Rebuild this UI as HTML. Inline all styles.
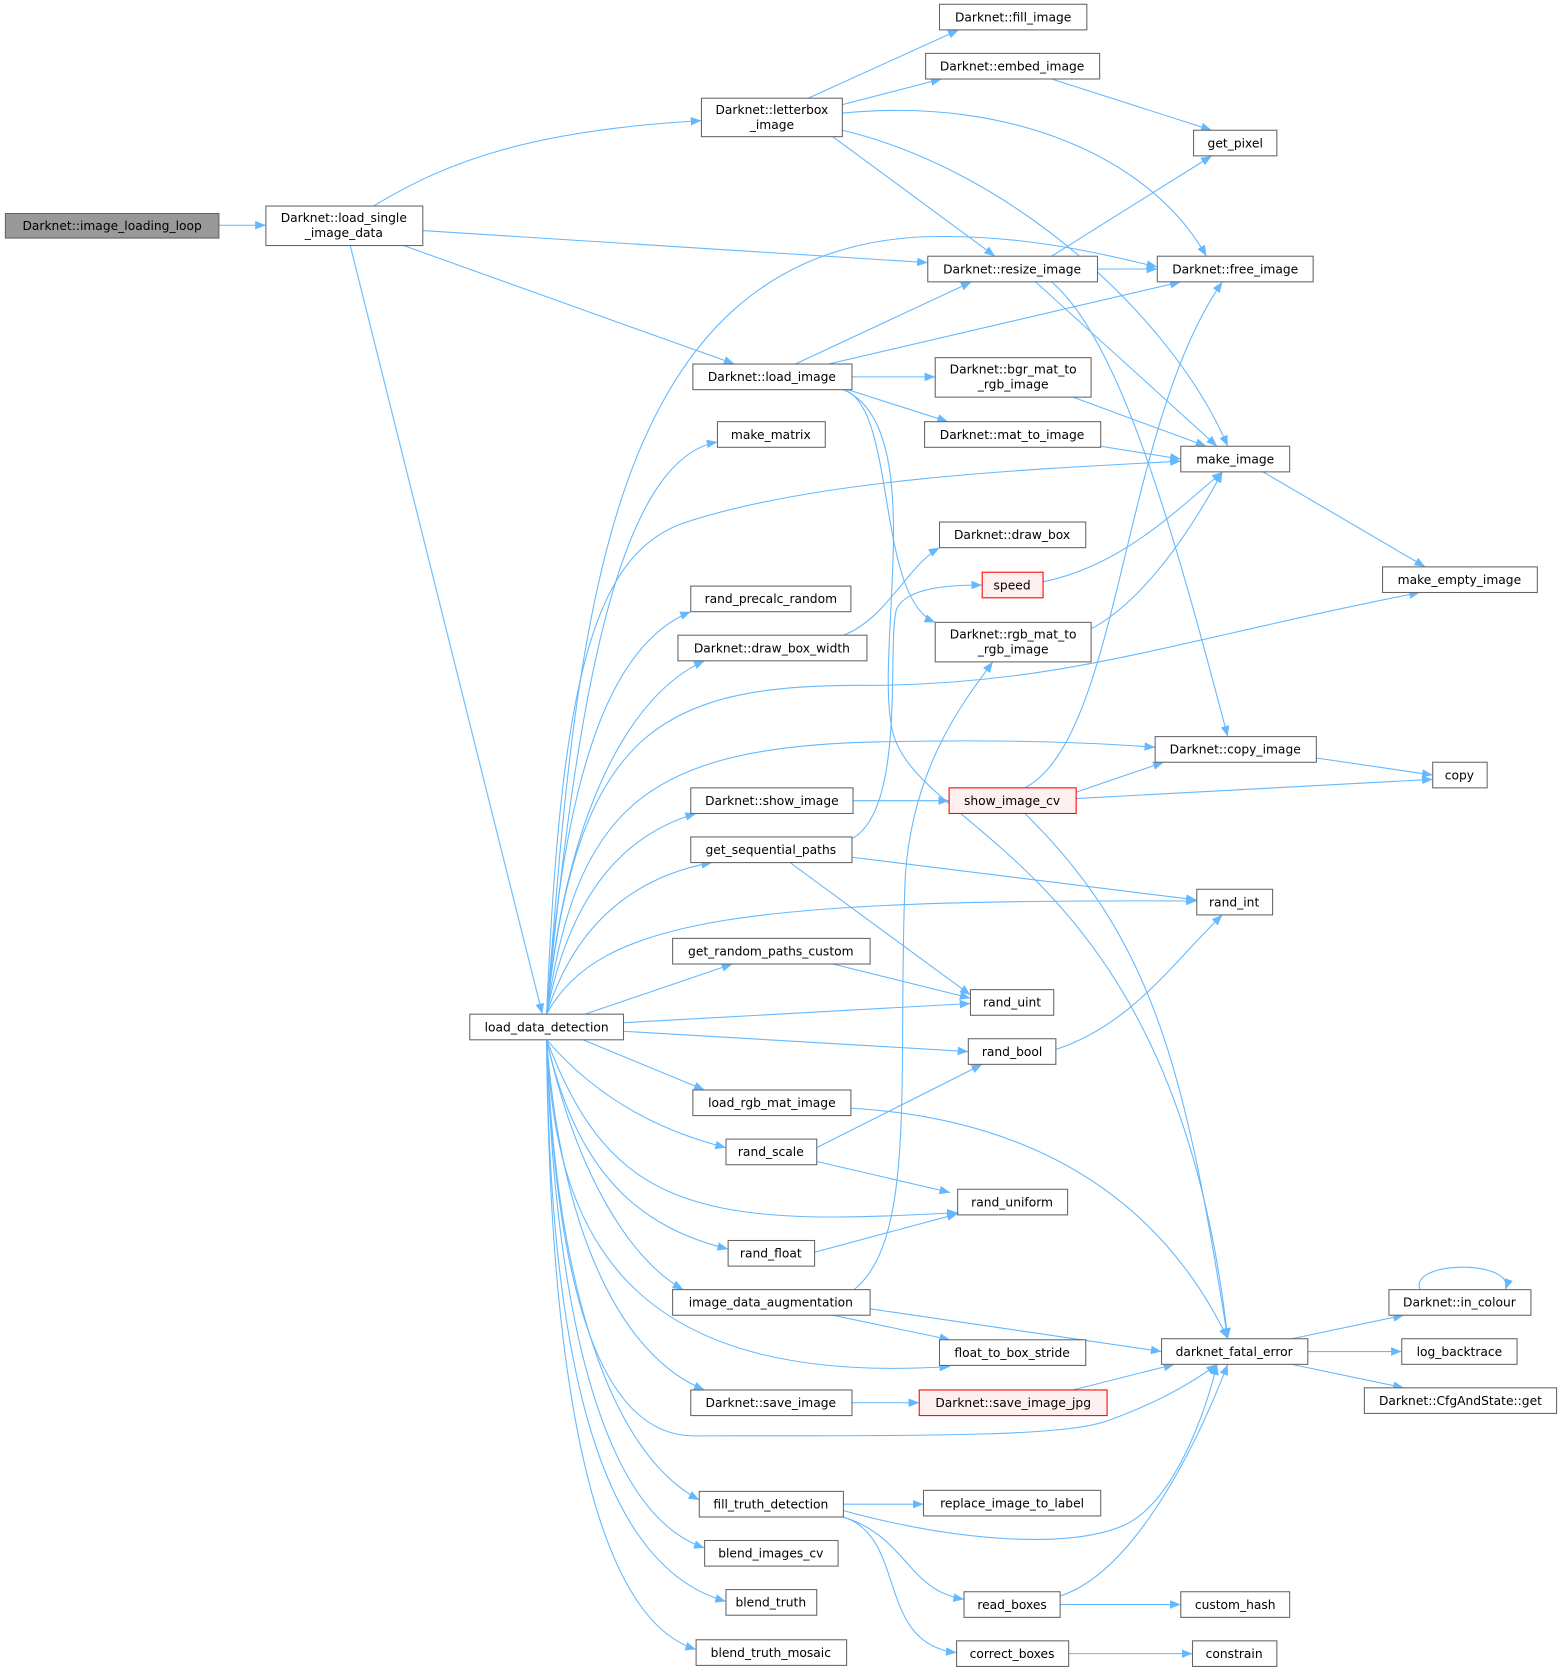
<!DOCTYPE html>
<html><head><meta charset="utf-8"><style>
html,body{margin:0;padding:0;background:#fff;}
svg{display:block;}
text{font-family:"DejaVu Sans","Liberation Sans",sans-serif;font-size:11.5px;fill:#000;text-anchor:middle;}
.e{fill:none;stroke:#63b8ff;stroke-width:1;}
.n{fill:#fff;stroke:#666;stroke-width:1;}
.r{fill:#fff0f0;stroke:#f00;stroke-width:1;}
</style></head><body>
<svg width="1563" height="1675" viewBox="0 0 1464 1569" xmlns="http://www.w3.org/2000/svg">
<defs><marker id="a" viewBox="0 0 10 10" refX="10" refY="5" markerWidth="10" markerHeight="10" markerUnits="userSpaceOnUse" orient="auto"><path d="M0,1 L10,5 L0,9 z" fill="#63b8ff"/></marker></defs>
<g marker-end="url(#a)">
<path class="e" d="M205,211 L249,211"/>
<path class="e" d="M350,193 C420,150 500,122 657,113"/>
<path class="e" d="M396,216 L869,246"/>
<path class="e" d="M378,230 L688,341"/>
<path class="e" d="M328,230 L508,950"/>
<path class="e" d="M757,92 L898,28"/>
<path class="e" d="M789,98 L882,74"/>
<path class="e" d="M789,106 C950,90 1080,150 1130,240"/>
<path class="e" d="M789,122 C950,160 1100,300 1150,418"/>
<path class="e" d="M780,128 L932,240"/>
<path class="e" d="M985,74 L1135,122"/>
<path class="e" d="M985,240 L1135,146"/>
<path class="e" d="M1028,252 L1084,252"/>
<path class="e" d="M970,264 L1140,418"/>
<path class="e" d="M985,264 C1050,320 1100,500 1150,690"/>
<path class="e" d="M745,341 L910,264"/>
<path class="e" d="M776,341 L1106,264"/>
<path class="e" d="M798,353 L876,353"/>
<path class="e" d="M794,365 L888,395"/>
<path class="e" d="M790,365 C840,380 820,560 876,583"/>
<path class="e" d="M790,365 C870,400 820,600 835,680 C850,780 1100,800 1150,1254"/>
<path class="e" d="M1005,372 L1130,418"/>
<path class="e" d="M1031,418 L1106,430"/>
<path class="e" d="M1183,442 L1335,531"/>
<path class="e" d="M977,545 C1050,530 1100,480 1145,442"/>
<path class="e" d="M1020,590 C1080,560 1130,470 1145,442"/>
<path class="e" d="M790,595 C830,580 850,530 880,513"/>
<path class="e" d="M797,786 C850,760 830,600 840,570 C850,550 890,548 920,548"/>
<path class="e" d="M798,803 L1121,843"/>
<path class="e" d="M740,808 L909,932"/>
<path class="e" d="M799,750 L889,750"/>
<path class="e" d="M960,738 C1050,690 1050,400 1145,264"/>
<path class="e" d="M1008,742 L1090,714"/>
<path class="e" d="M1008,748 L1342,730"/>
<path class="e" d="M960,762 C1080,880 1110,1000 1150,1254"/>
<path class="e" d="M1233,710 L1342,726"/>
<path class="e" d="M780,903 L909,935"/>
<path class="e" d="M989,983 C1060,960 1100,900 1145,857"/>
<path class="e" d="M797,1038 C1000,1050 1100,1150 1150,1254"/>
<path class="e" d="M765,1075 L920,997"/>
<path class="e" d="M765,1088 L890,1117"/>
<path class="e" d="M763,1173 L897,1137"/>
<path class="e" d="M815,1226 L1088,1266"/>
<path class="e" d="M780,1232 L890,1255"/>
<path class="e" d="M800,1208 C860,1160 840,1000 848,820 C855,720 900,660 930,620"/>
<path class="e" d="M798,1314 L861,1314"/>
<path class="e" d="M1005,1302 L1100,1278"/>
<path class="e" d="M1210,1254 L1315,1232"/>
<path class="e" d="M1225,1266 L1313,1266"/>
<path class="e" d="M1210,1278 L1315,1300"/>
<path class="e" d="M1330,1208 C1320,1180 1420,1180 1410,1208"/>
<path class="e" d="M790,1409 L865,1409"/>
<path class="e" d="M790,1415 C900,1445 1000,1450 1050,1430 C1100,1410 1130,1320 1140,1278"/>
<path class="e" d="M790,1421 C850,1440 850,1490 903,1498"/>
<path class="e" d="M790,1421 C850,1440 820,1540 896,1548"/>
<path class="e" d="M993,1495 C1070,1470 1130,1330 1150,1278"/>
<path class="e" d="M993,1503 L1106,1503"/>
<path class="e" d="M1001,1549 L1117,1549"/>
<path class="e" d="M512,950 C540,600 560,240 860,222 C960,218 1040,240 1084,250"/>
<path class="e" d="M512,950 C540,650 580,430 672,414"/>
<path class="e" d="M512,950 C525,640 555,520 640,490 C760,450 950,440 1106,432"/>
<path class="e" d="M512,950 C530,700 580,600 647,573"/>
<path class="e" d="M512,950 C530,760 590,650 660,619"/>
<path class="e" d="M512,950 C540,680 620,640 820,642 C1000,640 1100,600 1330,555"/>
<path class="e" d="M512,950 C540,760 600,700 820,695 C950,692 1030,696 1082,700"/>
<path class="e" d="M512,950 C535,830 590,780 652,762"/>
<path class="e" d="M512,950 C540,860 600,820 667,808"/>
<path class="e" d="M512,950 C560,860 700,842 1121,844"/>
<path class="e" d="M548,950 L686,903"/>
<path class="e" d="M584,958 L909,940"/>
<path class="e" d="M584,966 L907,985"/>
<path class="e" d="M546,974 L660,1021"/>
<path class="e" d="M512,974 C560,1030 620,1060 680,1075"/>
<path class="e" d="M512,974 C560,1100 620,1140 780,1140 C830,1140 870,1137 897,1136"/>
<path class="e" d="M512,974 C540,1100 600,1150 682,1170"/>
<path class="e" d="M512,974 C540,1100 590,1180 640,1208"/>
<path class="e" d="M512,974 C520,1150 580,1300 890,1280"/>
<path class="e" d="M512,974 C525,1150 580,1270 660,1302"/>
<path class="e" d="M512,974 C520,1200 560,1345 650,1345 C900,1345 1000,1345 1040,1330 C1080,1315 1110,1300 1140,1278"/>
<path class="e" d="M512,974 C520,1200 570,1360 655,1405"/>
<path class="e" d="M512,974 C520,1250 570,1420 660,1450"/>
<path class="e" d="M512,974 C515,1300 570,1470 680,1500"/>
<path class="e" d="M512,974 C515,1350 570,1520 652,1545"/>
</g>
<g>
<rect x="5" y="200" width="200" height="23" fill="#999" stroke="#666"/><text x="105" y="215.5">Darknet::image_loading_loop</text>
<rect class="n" x="249" y="193" width="147" height="37"/><text x="322" y="208">Darknet::load_single</text><text x="322" y="222">_image_data</text>
<rect class="n" x="657" y="92" width="132" height="36"/><text x="723" y="107">Darknet::letterbox</text><text x="723" y="121">_image</text>
<rect class="n" x="880" y="4" width="138" height="24"/><text x="949" y="20">Darknet::fill_image</text>
<rect class="n" x="867" y="50" width="163" height="24"/><text x="948" y="66">Darknet::embed_image</text>
<rect class="n" x="1118" y="122" width="78" height="24"/><text x="1157" y="138">get_pixel</text>
<rect class="n" x="869" y="240" width="159" height="24"/><text x="948" y="256">Darknet::resize_image</text>
<rect class="n" x="1084" y="240" width="146" height="24"/><text x="1157" y="256">Darknet::free_image</text>
<rect class="n" x="649" y="341" width="149" height="24"/><text x="723" y="357">Darknet::load_image</text>
<rect class="n" x="876" y="335" width="146" height="37"/><text x="949" y="350">Darknet::bgr_mat_to</text><text x="949" y="364">_rgb_image</text>
<rect class="n" x="866" y="395" width="165" height="24"/><text x="948" y="411">Darknet::mat_to_image</text>
<rect class="n" x="1106" y="418" width="102" height="24"/><text x="1157" y="434">make_image</text>
<rect class="n" x="672" y="395" width="101" height="24"/><text x="722" y="411">make_matrix</text>
<rect class="n" x="880" y="489" width="137" height="24"/><text x="948" y="505">Darknet::draw_box</text>
<rect class="r" x="920" y="536" width="57" height="24"/><text x="948" y="552">speed</text>
<rect class="n" x="1295" y="531" width="145" height="24"/><text x="1367" y="547">make_empty_image</text>
<rect class="n" x="647" y="549" width="150" height="24"/><text x="722" y="565">rand_precalc_random</text>
<rect class="n" x="635" y="595" width="177" height="24"/><text x="723" y="611">Darknet::draw_box_width</text>
<rect class="n" x="876" y="583" width="146" height="37"/><text x="949" y="598">Darknet::rgb_mat_to</text><text x="949" y="612">_rgb_image</text>
<rect class="n" x="1082" y="690" width="151" height="24"/><text x="1157" y="706">Darknet::copy_image</text>
<rect class="n" x="1342" y="714" width="51" height="24"/><text x="1367" y="730">copy</text>
<rect class="n" x="647" y="738" width="152" height="24"/><text x="723" y="754">Darknet::show_image</text>
<rect class="r" x="889" y="738" width="119" height="24"/><text x="948" y="754">show_image_cv</text>
<rect class="n" x="647" y="784" width="151" height="24"/><text x="722" y="800">get_sequential_paths</text>
<rect class="n" x="1121" y="833" width="71" height="24"/><text x="1156" y="849">rand_int</text>
<rect class="n" x="630" y="879" width="185" height="24"/><text x="722" y="895">get_random_paths_custom</text>
<rect class="n" x="909" y="927" width="78" height="24"/><text x="948" y="943">rand_uint</text>
<rect class="n" x="440" y="950" width="144" height="24"/><text x="512" y="966">load_data_detection</text>
<rect class="n" x="907" y="973" width="82" height="24"/><text x="948" y="989">rand_bool</text>
<rect class="n" x="649" y="1021" width="148" height="24"/><text x="723" y="1037">load_rgb_mat_image</text>
<rect class="n" x="680" y="1067" width="85" height="24"/><text x="722" y="1083">rand_scale</text>
<rect class="n" x="897" y="1114" width="103" height="24"/><text x="948" y="1130">rand_uniform</text>
<rect class="n" x="682" y="1162" width="81" height="24"/><text x="722" y="1178">rand_float</text>
<rect class="n" x="630" y="1208" width="185" height="24"/><text x="722" y="1224">image_data_augmentation</text>
<rect class="n" x="1088" y="1254" width="137" height="24"/><text x="1156" y="1270">darknet_fatal_error</text>
<rect class="n" x="1301" y="1208" width="133" height="24"/><text x="1367" y="1224">Darknet::in_colour</text>
<rect class="n" x="880" y="1255" width="137" height="24"/><text x="948" y="1271">float_to_box_stride</text>
<rect class="n" x="1313" y="1254" width="108" height="24"/><text x="1367" y="1270">log_backtrace</text>
<rect class="n" x="647" y="1302" width="151" height="24"/><text x="722" y="1318">Darknet::save_image</text>
<rect class="r" x="861" y="1302" width="176" height="24"/><text x="949" y="1318">Darknet::save_image_jpg</text>
<rect class="n" x="1278" y="1300" width="180" height="24"/><text x="1368" y="1316">Darknet::CfgAndState::get</text>
<rect class="n" x="655" y="1397" width="135" height="24"/><text x="722" y="1413">fill_truth_detection</text>
<rect class="n" x="865" y="1396" width="166" height="24"/><text x="948" y="1412">replace_image_to_label</text>
<rect class="n" x="660" y="1443" width="125" height="24"/><text x="722" y="1459">blend_images_cv</text>
<rect class="n" x="903" y="1491" width="90" height="24"/><text x="948" y="1507">read_boxes</text>
<rect class="n" x="1106" y="1491" width="102" height="24"/><text x="1157" y="1507">custom_hash</text>
<rect class="n" x="680" y="1489" width="85" height="24"/><text x="722" y="1505">blend_truth</text>
<rect class="n" x="652" y="1536" width="141" height="24"/><text x="722" y="1552">blend_truth_mosaic</text>
<rect class="n" x="896" y="1537" width="105" height="24"/><text x="948" y="1553">correct_boxes</text>
<rect class="n" x="1117" y="1537" width="79" height="24"/><text x="1156" y="1553">constrain</text>
</g>
</svg>
</body></html>
